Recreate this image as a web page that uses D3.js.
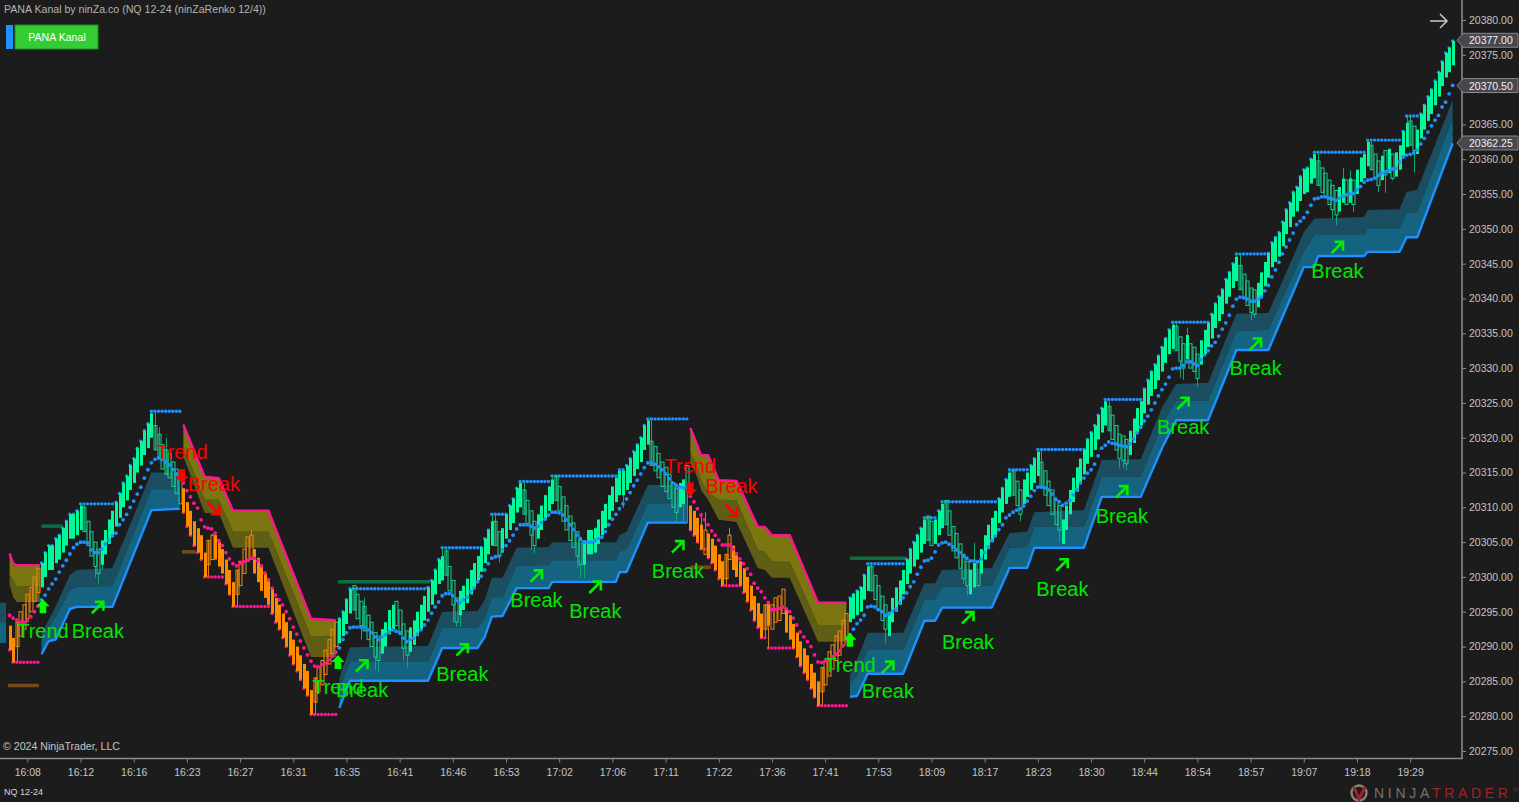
<!DOCTYPE html>
<html>
<head>
<meta charset="utf-8">
<script src="https://cdn.jsdelivr.net/npm/d3@7"></script>
<style>
  html, body { margin: 0; padding: 0; background: #1c1c1c; overflow: hidden; }
  svg { display: block; }
  text { font-family: "Liberation Sans", Arial, sans-serif; }
</style>
</head>
<body>
<div id="chart"></div>
<script>
// all prices below are written without the leading 20000
const priceBase = 20000;

const timeLabels = ["16:08", "16:12", "16:16", "16:23", "16:27", "16:31", "16:35", "16:41", "16:46", "16:53", "17:02", "17:06", "17:11", "17:22", "17:36", "17:41", "17:53", "18:09", "18:17", "18:23", "18:30", "18:44", "18:54", "18:57", "19:07", "19:18", "19:29"];
const priceFlags = [377, 370.5, 362.25];

// renko closes, one per bar
const closes = [
  289.5, 287.75, 293.5, 295, 296, 297.5, 298.5, 300, 301.25, 302, 303.5, 304.5, 304.5, 305.5, 306, 307, 308, 309, 309, 309.5,
  310.25, 306.5, 304.5, 303, 301.5, 300.5, 305.25, 306.75, 308.25, 309.5, 310.75, 312, 313.5, 314.5, 316, 317, 318.5, 319.5, 321, 322,
  323.5, 318.25, 317, 315.5, 314.75, 314.25, 313, 312, 310.5, 309.25, 307.25, 306, 304.5, 303.5, 302.5, 300, 305.25, 306, 302.5, 301.5,
  300.5, 299, 297.5, 295.75, 301, 302.25, 304, 305.75, 306, 300.5, 299.25, 298, 297, 296, 294.75, 293.5, 292.5, 291.25, 290, 288.75,
  287.5, 286.5, 285.25, 284, 283, 280.25, 285.5, 287, 288, 289.5, 291, 292.5, 293.5, 294, 295, 296.75, 298.25, 295.25, 294, 293,
  292.25, 291, 290, 288.5, 288, 292.5, 293.5, 295.25, 296, 293, 291.75, 289.75, 288.75, 292.75, 293.75, 295, 296, 297.25, 298.5, 299.5,
  301, 302.5, 303, 300.25, 298, 296, 293.5, 298, 298.75, 299.75, 301, 302, 303, 304.25, 305.5, 306.75, 308, 304.5, 303, 307,
  309, 310.25, 311.25, 312.75, 313.5, 309, 307.5, 306, 304.5, 309, 310.25, 311.75, 313, 314, 311, 309.5, 308, 306.75, 305.25, 304.25,
  303, 301.75, 305.25, 306.75, 306.75, 307, 308.25, 309.5, 310.5, 311.75, 313, 314.25, 315.25, 315.25, 316, 317, 318, 319, 320, 321.75,
  322.5, 316, 315.25, 314.25, 313, 312.25, 311.25, 310, 309.25, 313.5, 314, 312.5, 306.75, 306, 305, 304, 306.75, 302.75, 302, 301,
  299.75, 298.75, 303.25, 306, 301, 300, 298.75, 297.75, 296.5, 295.25, 293.75, 292.75, 291.25, 296, 293, 296, 297, 297.25, 298.25, 292,
  291, 289.75, 288.5, 287.25, 286.25, 285.25, 284, 282.75, 281.5, 287, 288, 289.25, 290.25, 291.5, 292.25, 293.75, 294.75, 297, 297.5, 298,
  298.5, 300.25, 301.5, 298, 296.75, 295.25, 293.75, 292.5, 295, 297, 298.5, 299.5, 301, 302.5, 304, 305, 306, 307, 308.25, 305.25,
  304.5, 308.25, 309.5, 310.5, 307.5, 306, 303.75, 302.75, 301.25, 299.75, 298.75, 301, 302, 298.75, 304, 306, 307.5, 308.5, 309.5, 311.25,
  312.75, 314, 315, 311.75, 310.25, 309, 314, 315, 316, 317, 318, 313, 311.75, 310.25, 309, 307.5, 306.75, 308.25, 310.25, 312.5,
  314.25, 315.75, 317, 318.25, 319.75, 320.75, 321.75, 323.25, 324.25, 325.25, 321, 319.75, 318.25, 317, 316.75, 316.25, 321, 322.75, 324.25, 325.25,
  327, 328.25, 329.5, 330.5, 331.75, 333, 334.25, 335.5, 336.25, 332.5, 331, 330, 334.75, 330, 329.5, 328.5, 334, 335.5, 336.5, 337.75,
  339.25, 340.25, 341.25, 342.75, 343.75, 345, 346, 341.25, 340, 339, 338, 337.75, 342.25, 343.75, 345.25, 346.5, 348, 348.75, 349.5, 351,
  352.75, 353.75, 355.25, 356, 357.5, 358.5, 358.75, 360, 360.75, 356.25, 355.25, 354.5, 353.5, 352.75, 352, 356, 357.25, 353.5, 357.25, 353.5,
  358.5, 360.25, 360.75, 362.5, 358.5, 357.25, 356.25, 360.5, 357.75, 361.5, 357.25, 361, 362, 364, 365.25, 362, 361.25, 364.25, 366.5, 367.75,
  369, 370, 371.25, 372.5, 374, 375.25, 376, 377
];

// wick tips, sparse
const wickBars = [2, 21, 24, 25, 26, 20, 40, 41, 42, 44, 56, 57, 64, 68, 86, 96, 97, 99, 100, 103, 104, 111, 112, 122, 123, 125, 126, 127, 136, 137, 138, 144, 145, 147, 148, 153, 154, 160, 161, 162, 165, 172, 173, 180, 181, 188, 190, 191, 195, 196, 202, 203, 213, 214, 229, 242, 243, 247, 248, 258, 259, 263, 264, 269, 270, 272, 273, 282, 283, 285, 290, 291, 296, 309, 310, 313, 314, 315, 328, 329, 330, 331, 332, 335, 346, 347, 350, 351, 368, 369, 373, 374, 376, 378, 379, 383, 384, 386, 388, 389, 390, 394, 395, 396];
const wickEnds = [287.75, 310.5, 299.9, 299.1, 301, 310.5, 323.8, 323.8, 321.5, 320, 300, 306.2, 295.75, 306.75, 280.25, 298.3, 298.3, 291, 297, 286.6, 286.3, 288, 286.9, 304.2, 304.2, 293.5, 292.8, 292.8, 309, 309, 302.1, 313.7, 313.7, 303.9, 303.4, 314.5, 314.5, 301.2, 299.8, 299.8, 307.2, 315.4, 309.9, 322.7, 322.7, 307.9, 307.9, 307.7, 309.2, 309.3, 298.75, 307, 291.25, 289.8, 281.5, 301.9, 301.9, 290.5, 294.1, 308.5, 308.5, 310.8, 310.8, 299, 297.4, 304.9, 298.6, 315.4, 315.4, 308, 318.3, 318.3, 305, 325.5, 325.5, 315.6, 315.6, 315.3, 336.6, 336.6, 328.6, 328.3, 335.8, 327.3, 346.4, 346.4, 336.9, 337.2, 361, 361, 351.5, 350.5, 358.7, 358.4, 352.4, 362.75, 362.75, 355.3, 355.2, 361.3, 357, 366.2, 366.2, 358.1];

// the dotted trail, one per bar
const trailValues = [
  294.5, 294.1, 293.8, 293.5, 293.5, 293.7, 294.3, 295, 295.8, 296.7, 297.4, 298.3, 299, 299.7, 300.7, 301.6, 302.4, 303.3, 304.2, 304.7,
  305, 305, 304.9, 303.9, 303.5, 303.5, 304, 304.7, 305.3, 305.9, 306.3, 307.5, 308.2, 309, 310, 310.9, 311.9, 312.9, 314.2, 315.4,
  316.4, 316.9, 317.1, 316.9, 316.5, 316.1, 315.4, 314.8, 314.2, 313.5, 312.4, 311.5, 310.6, 309.9, 308.2, 307.2, 307, 306.9, 306.3, 305.2,
  304.5, 303.5, 302.6, 301.9, 301.6, 301.9, 302.2, 302.4, 302.7, 302.7, 302.3, 301.6, 300.6, 299.6, 298.4, 297.4, 296.7, 296, 295, 294,
  292.8, 291.8, 290.8, 289.8, 288.8, 287.9, 287.2, 287.1, 287.4, 287.6, 288.1, 288.6, 289.2, 289.8, 291, 292, 292.7, 292.8, 292.8, 292.8,
  292.8, 292.4, 292, 291.4, 291, 291.4, 291.7, 292.1, 292.4, 292.2, 292, 291.2, 290.7, 291, 291.2, 291.8, 292.4, 293.1, 293.8, 294.8,
  295.7, 296.4, 297.3, 297.6, 297.6, 297.3, 296.6, 296.3, 296.7, 297.1, 297.9, 298.4, 299.3, 300.1, 301, 301.9, 302.7, 302.9, 303, 303.9,
  304.5, 305.2, 306, 306.9, 307.5, 307.5, 307.5, 307.3, 307, 307.3, 307.8, 308.3, 308.9, 309.3, 309.3, 309.2, 308.9, 308.2, 307.5, 306.8,
  306, 305.5, 305, 305, 305, 305.2, 305.5, 305.7, 306.5, 307.5, 308.3, 309, 309.8, 310.5, 311.2, 312.1, 313.1, 313.9, 314.8, 315.7,
  316.4, 316.4, 316.2, 315.8, 315.4, 314.8, 314.1, 313.5, 313.2, 312.9, 312.8, 312.4, 311.6, 310.8, 309.8, 308.9, 308.2, 307.5, 306.6, 306,
  305.3, 304.6, 304.6, 304.6, 304, 303.3, 302.6, 301.9, 301.2, 300.4, 299.1, 298.4, 297.9, 297, 296.3, 295.3, 295.3, 295.5, 295.7, 295.4,
  295, 294.1, 293.1, 292.1, 291.4, 290.7, 290, 288.8, 287.8, 287.7, 287.9, 288.2, 288.5, 288.9, 289.4, 290.1, 291, 291.7, 292.5, 293.3,
  293.8, 294.5, 295.7, 295.8, 295.7, 295.3, 295, 294.5, 294.7, 295.1, 295.4, 296.3, 297, 297.7, 298.6, 299.3, 300.4, 301.4, 302.3, 302.4,
  302.7, 303.6, 304.6, 304.9, 305, 304.7, 304.3, 303.9, 303.5, 303, 302.7, 302.3, 302.3, 302.2, 302.6, 303.5, 304.3, 305.2, 305.9, 306.8,
  307.5, 308.5, 308.9, 309.3, 309.6, 309.8, 310.2, 310.9, 311.6, 312.4, 312.9, 312.9, 312.8, 312.5, 311.9, 311.2, 310.8, 310.3, 310.6, 311,
  311.8, 312.6, 313.5, 314.2, 314.9, 315.4, 316.2, 317.4, 318.5, 318.9, 319.4, 319.2, 319.1, 318.9, 318.8, 318.7, 319.1, 319.8, 320.7, 321.5,
  322.4, 323.1, 324, 325, 326, 326.9, 327.7, 328.7, 329.9, 330, 330, 330.4, 330.9, 330.9, 330.6, 330.4, 331.2, 331.9, 332.5, 333.2,
  333.7, 334.6, 335.6, 336.5, 337.6, 338.9, 339.9, 340.2, 340.1, 339.9, 339.6, 339.6, 339.9, 340.2, 341.1, 341.9, 343.1, 344.1, 345.2, 346.4,
  347.4, 348.4, 349.4, 350.6, 351.1, 351.6, 352.4, 353.4, 354.3, 354.4, 354.6, 354.6, 354.4, 354.3, 354.1, 354.4, 354.7, 354.9, 355, 355.1,
  355.6, 356.1, 356.7, 357, 357.1, 357.3, 357.7, 358, 358.2, 358.4, 358.6, 358.7, 359.6, 360.3, 360.6, 360.7, 360.9, 361.3, 362.2, 363,
  363.9, 364.8, 365.6, 366.3, 367.5, 368.2, 369.4, 370.6
];

// down trend stretches, first and last bar
const downFrom = [0, 49, 192];
const downTo = [8, 92, 236];

// channel bands: knots at bars, then line, middle edge, far edge
const blueBars0 = [-3, -1];
const blueLine0 = [290.5, 290.5];
const blueMid0 = [293.5, 293.5];
const blueEdge0 = [296.3, 296.3];

const blueBars1 = [9, 11, 13, 17, 19, 29, 40, 48];
const blueLine1 = [288.9, 290.8, 291, 295.4, 295.7, 295.7, 309.6, 309.8];
const blueMid1 = [291, 292.7, 294.3, 298.1, 298.6, 298.7, 312.6, 312.6];
const blueEdge1 = [291.8, 293.8, 295.8, 300.3, 301, 301.3, 315, 315];

const blueBars2 = [93, 96, 118, 122, 132, 134, 136, 139, 143, 152, 153, 171, 172, 174, 180, 191];
const blueLine2 = [281.2, 285.1, 285.1, 289.8, 289.8, 291.4, 294.3, 294.4, 298.4, 298.4, 299.3, 299.3, 300.7, 300.7, 307.8, 307.8];
const blueMid2 = [283.8, 287.8, 287.8, 292.7, 292.7, 294.1, 297.1, 297.1, 301.6, 301.7, 302.4, 302.4, 303.7, 303.9, 310.6, 310.6];
const blueEdge2 = [285.5, 289.9, 290.1, 295, 295.1, 296.7, 299.9, 299.9, 304.2, 304.3, 305, 305, 306, 306.5, 313.2, 313.2];

const blueBars3 = [237, 239, 242, 252, 258, 261, 263, 277, 282, 287, 289, 303, 308, 319, 325, 329, 338, 346, 355, 365, 368, 369, 382, 383, 392, 394, 397, 407];
const blueLine3 = [282.8, 282.9, 286.1, 286.1, 293.7, 293.7, 295.6, 295.6, 301.3, 301.3, 304.2, 304.2, 311.5, 311.5, 318.5, 322.5, 322.5, 332.6, 332.6, 344.5, 344.5, 346.1, 346.1, 346.7, 346.7, 348.8, 348.8, 362.3];
const blueMid3 = [284.5, 285.9, 289.5, 289.5, 296.7, 296.7, 298.6, 298.7, 304.2, 304.3, 307.2, 307.2, 314.4, 314.4, 321.9, 325.3, 325.3, 335.3, 335.5, 346.7, 349.1, 349.1, 349.1, 350.1, 350.1, 352.3, 352.4, 365.9];
const blueEdge3 = [285.9, 288.1, 292, 292, 299.1, 299.1, 301, 301.3, 306.3, 306.5, 309.3, 309.6, 316.8, 316.9, 324.3, 327.7, 327.9, 337.8, 337.9, 349.5, 351.5, 351.5, 351.7, 352.7, 352.8, 355.3, 355.6, 368.5];

const pinkBars1 = [0, 1, 2, 8.5];
const pinkLine1 = [303.4, 301.9, 301.7, 301.7];
const pinkMid1 = [300.3, 299.6, 298.6, 298.7];
const pinkEdge1 = [298.9, 297.1, 296.4, 296.4];

const pinkBars2 = [49, 55, 59, 63, 73, 85, 92];
const pinkLine2 = [321.9, 314.4, 314.2, 309.5, 309.5, 294, 293.8];
const pinkMid2 = [318.7, 311.1, 311.1, 306.5, 306.5, 291.4, 291.5];
const pinkEdge2 = [317.3, 309.2, 309.2, 304.2, 304.2, 288.5, 288.5];

const pinkBars3 = [192, 194, 195, 197, 200, 205, 211, 213, 215, 220, 228, 236];
const pinkLine3 = [321.4, 318.8, 317.5, 317.5, 313.9, 313.8, 307.2, 307.2, 306, 306, 296.3, 296.3];
const pinkMid3 = [318, 315.7, 313.9, 312.1, 311.1, 311, 303.9, 303.6, 302.2, 302.2, 293.1, 293.1];
const pinkEdge3 = [316.4, 314.2, 312.5, 311.1, 308.2, 307.9, 301.3, 301, 299.9, 299.9, 290.7, 290.7];

// short resistance / support levels
const levelFrom = [9, 92.6, 237, -0.5, 48.6, 192];
const levelTo = [15, 118.6, 253, 8.3, 52.5, 197.8];
const levelPrice = [307.3, 299.3, 302.7, 284.4, 303.6, 301.4];
const levelUp = [true, true, true, false, false, false];

// signals: bar and the text baseline price
const breakUpBars = [24.9, 99.4, 127.7, 148.6, 165.2, 188.5, 247.7, 270.3, 296.9, 313.7, 331, 351.4, 374.5];
const breakUpPrices = [291.2, 282.8, 285.1, 295.7, 294.1, 299.9, 282.6, 289.7, 297.3, 307.8, 320.5, 329, 342.9];
const breakDownBars = [57.6, 203.6];
const breakDownPrices = [312.4, 312.1];
const trendUpBars = [9.4, 92.6, 237];
const trendUpPrices = [291.2, 283.2, 286.4];
const trendDownBars = [48.6, 192];
const trendDownPrices = [316.9, 315];

const width = 1519, height = 802;
const axisX = 1462, axisY = 758.5;
const brick = 3.5;

const GREEN = "#00fa9a", ORANGE = "#ff8c00", PINK = "#ff1493", BLUE = "#1e90ff";

const svg = d3.select("#chart").append("svg")
    .attr("width", width)
    .attr("height", height)
    .attr("viewBox", "0 0 " + width + " " + height);

svg.append("rect").attr("width", width).attr("height", height).attr("fill", "#1c1c1c");

const x = d3.scaleLinear().domain([0, 407]).range([9.6, 1452.7]);
const y = d3.scaleLinear().domain([20275, 20380]).range([751, 20]);
const py = v => y(priceBase + v);

function isDown(i) {
    return downFrom.some((f, k) => i >= f && i <= downTo[k]);
}

const bands = [
    { bars: blueBars0, line: blueLine0, mid: blueMid0, edge: blueEdge0, up: true, noLine: true },
    { bars: blueBars1, line: blueLine1, mid: blueMid1, edge: blueEdge1, up: true },
    { bars: blueBars2, line: blueLine2, mid: blueMid2, edge: blueEdge2, up: true },
    { bars: blueBars3, line: blueLine3, mid: blueMid3, edge: blueEdge3, up: true },
    { bars: pinkBars1, line: pinkLine1, mid: pinkMid1, edge: pinkEdge1, up: false },
    { bars: pinkBars2, line: pinkLine2, mid: pinkMid2, edge: pinkEdge2, up: false },
    { bars: pinkBars3, line: pinkLine3, mid: pinkMid3, edge: pinkEdge3, up: false }
];

// channel fills
const area = d3.area().x(d => x(d[0])).y0(d => py(d[1])).y1(d => py(d[2]));
const lineGen = d3.line().x(d => x(d[0])).y(d => py(d[1]));
const bandG = svg.append("g");

bands.forEach(b => {
    bandG.append("path")
        .attr("d", area(b.bars.map((v, i) => [v, b.mid[i], b.edge[i]])))
        .attr("fill", b.up ? "#1b4e61" : "#605d14");
    bandG.append("path")
        .attr("d", area(b.bars.map((v, i) => [v, b.line[i], b.mid[i]])))
        .attr("fill", b.up ? "#146380" : "#7b7610");
});
bands.filter(b => !b.noLine).forEach(b => {
    bandG.append("path")
        .attr("d", lineGen(b.bars.map((v, i) => [v, b.line[i]])))
        .attr("fill", "none")
        .attr("stroke", b.up ? BLUE : PINK)
        .attr("stroke-width", 2.4)
        .attr("stroke-linejoin", "round");
});

// levels
svg.append("g").selectAll("line")
    .data(levelFrom)
    .enter()
    .append("line")
    .attr("x1", d => x(d))
    .attr("x2", (d, i) => x(levelTo[i]))
    .attr("y1", (d, i) => py(levelPrice[i]))
    .attr("y2", (d, i) => py(levelPrice[i]))
    .attr("stroke", (d, i) => levelUp[i] ? "#0e6d3f" : "#734a1c")
    .attr("stroke-width", 3.5);

// swing dots follow the running extreme of each trend
const tips = d3.group(wickBars.map((b, i) => [b, wickEnds[i]]), d => d[0]);
let extreme = null;
const swingData = closes.map((c, i) => {
    const down = isDown(i);
    if (i === 0 || isDown(i - 1) !== down) extreme = null;
    const vals = [c].concat((tips.get(i) || []).map(t => t[1]));
    const v = down ? d3.min(vals) : d3.max(vals);
    extreme = extreme === null ? v : (down ? Math.min(extreme, v) : Math.max(extreme, v));
    return { i: i, v: extreme, down: down };
});

svg.append("g").selectAll("circle")
    .data(swingData)
    .enter()
    .append("circle")
    .attr("cx", d => x(d.i))
    .attr("cy", d => py(d.v))
    .attr("r", 1.7)
    .attr("fill", d => d.down ? PINK : BLUE);

// wicks first so bodies sit over them
svg.append("g").selectAll("line")
    .data(wickBars)
    .enter()
    .append("line")
    .attr("x1", d => Math.round(x(d)) + 0.5)
    .attr("x2", d => Math.round(x(d)) + 0.5)
    .attr("y1", d => py(closes[d]))
    .attr("y2", (d, i) => py(wickEnds[i]))
    .attr("stroke", d => isDown(d) ? "#d67c12" : "#10a86c")
    .attr("stroke-width", 1);

// renko bodies
const barData = closes.map((c, i) => {
    const rising = i > 0 ? c >= closes[i - 1] : false;
    const down = isDown(i);
    return {
        i: i,
        top: rising ? c : c + brick,
        bottom: rising ? c - brick : c,
        hollow: down ? rising : !rising,
        down: down
    };
});

svg.append("g").selectAll("rect")
    .data(barData)
    .enter()
    .append("rect")
    .attr("x", d => Math.round(x(d.i)) - (d.hollow ? 1 : 1))
    .attr("width", 3)
    .attr("y", d => py(d.top))
    .attr("height", d => py(d.bottom) - py(d.top))
    .attr("fill", d => d.hollow ? "none" : (d.down ? ORANGE : GREEN))
    .attr("stroke", d => d.hollow ? (d.down ? "#ee8a10" : "#18d090") : "none")
    .attr("stroke-width", 1);

// trail dots
svg.append("g").selectAll("circle")
    .data(trailValues)
    .enter()
    .append("circle")
    .attr("cx", (d, i) => x(i))
    .attr("cy", d => py(d))
    .attr("r", 1.9)
    .attr("fill", (d, i) => isDown(i) ? PINK : BLUE);

// signals
const BREAK_GREEN = "#00e600";
const signalG = svg.append("g");

function label(txt, bar, price, color) {
    signalG.append("text")
        .attr("x", x(bar))
        .attr("y", py(price))
        .attr("text-anchor", "middle")
        .attr("font-size", 20)
        .attr("fill", color)
        .text(txt);
}

function thinArrow(bar, price, dy, sign, color) {
    // sign -1 points up right, +1 points down right
    signalG.append("path")
        .attr("transform", "translate(" + x(bar) + "," + (py(price) + dy) + ")")
        .attr("d", sign < 0
            ? "M-6,6 L5.5,-5.5 M-3,-5.5 L5.5,-5.5 L5.5,3.5"
            : "M-6,-6 L5.5,5.5 M-3,5.5 L5.5,5.5 L5.5,-3.5")
        .attr("fill", "none")
        .attr("stroke", color)
        .attr("stroke-width", 2.6);
}

function blockArrow(bar, price, dy, sign, color) {
    signalG.append("path")
        .attr("transform", "translate(" + x(bar) + "," + (py(price) + dy) + ")" + (sign > 0 ? " scale(1,-1)" : ""))
        .attr("d", "M0,-7 L6.5,0 L3.3,0 L3.3,7 L-3.3,7 L-3.3,0 L-6.5,0 Z")
        .attr("fill", color);
}

trendUpBars.forEach((b, i) => {
    label("Trend", b, trendUpPrices[i], BREAK_GREEN);
    blockArrow(b, trendUpPrices[i], -32, -1, "#00ff00");
});
breakUpBars.forEach((b, i) => {
    label("Break", b, breakUpPrices[i], BREAK_GREEN);
    thinArrow(b, breakUpPrices[i], -31, -1, "#00f000");
});
trendDownBars.forEach((b, i) => {
    label("Trend", b, trendDownPrices[i], "#ff0000");
    blockArrow(b, trendDownPrices[i], 17, 1, "#ff0000");
});
breakDownBars.forEach((b, i) => {
    label("Break", b, breakDownPrices[i], "#ff0000");
    thinArrow(b, breakDownPrices[i], 18, 1, "#ff0000");
});

// axes
const yAxis = d3.axisRight(y)
    .tickValues(d3.range(20275, 20381, 5))
    .tickFormat(d3.format(".2f"))
    .tickSize(4)
    .tickPadding(3);
const xAxis = d3.axisBottom(x)
    .tickValues(timeLabels.map((d, i) => 5 + i * 15))
    .tickFormat((d, i) => timeLabels[i])
    .tickSize(4)
    .tickPadding(6);

const gy = svg.append("g").attr("transform", "translate(" + axisX + ",0)").call(yAxis);
const gx = svg.append("g").attr("transform", "translate(0," + axisY + ")").call(xAxis);
[gy, gx].forEach(g => {
    g.select(".domain").remove();
    g.selectAll("line").attr("stroke", "#8a8a8a");
    g.selectAll("text")
        .attr("fill", "#c4c4c4")
        .attr("font-size", 10.5)
        .attr("font-family", "'Liberation Sans', Arial, sans-serif");
});
gx.selectAll("text").attr("dy", "0.71em");

svg.append("line").attr("x1", 0).attr("x2", axisX + 1).attr("y1", axisY).attr("y2", axisY)
    .attr("stroke", "#8a8a8a").attr("stroke-width", 1.6);
svg.append("line").attr("x1", axisX).attr("x2", axisX).attr("y1", 0).attr("y2", axisY)
    .attr("stroke", "#8a8a8a").attr("stroke-width", 1.6);

// price flags
const flags = svg.append("g").selectAll("g")
    .data(priceFlags)
    .enter()
    .append("g")
    .attr("transform", d => "translate(0," + (py(d) - 0.6) + ")");
flags.append("path")
    .attr("d", "M1457,0 L1463,-7 L1518,-7 L1518,7 L1463,7 Z")
    .attr("fill", "#47474d")
    .attr("stroke", "#9a9a9a")
    .attr("stroke-width", 0.8);
flags.append("text")
    .attr("x", 1469)
    .attr("y", 4)
    .attr("font-size", 10.5)
    .attr("fill", "#f2f2f2")
    .text(d => d3.format(".2f")(priceBase + d));

// arrow top right
svg.append("path")
    .attr("d", "M1430,21 L1447,21 M1440,14 L1447,21 L1440,28")
    .attr("fill", "none")
    .attr("stroke", "#c8c8c8")
    .attr("stroke-width", 1.5);

// header
svg.append("text").attr("x", 4).attr("y", 13).attr("font-size", 10.6).attr("fill", "#b4b4b4")
    .text("PANA Kanal by ninZa.co (NQ 12-24 (ninZaRenko 12/4))");
svg.append("rect").attr("x", 6).attr("y", 25).attr("width", 7).attr("height", 24).attr("fill", BLUE);
svg.append("rect").attr("x", 15).attr("y", 25).attr("width", 83).attr("height", 24)
    .attr("fill", "#32cd32").attr("stroke", "#228b22").attr("stroke-width", 1);
svg.append("text").attr("x", 57).attr("y", 41).attr("text-anchor", "middle").attr("font-size", 10.6).attr("fill", "#ffffff")
    .text("PANA Kanal");

// footer
svg.append("text").attr("x", 3).attr("y", 750).attr("font-size", 10.6).attr("fill", "#c4c4c4")
    .text("\u00a9 2024 NinjaTrader, LLC");
svg.append("text").attr("x", 4).attr("y", 795).attr("font-size", 9).attr("fill", "#d8d8d8")
    .text("NQ 12-24");

// logo
const logo = svg.append("g");
logo.append("circle").attr("cx", 1359).attr("cy", 793).attr("r", 7.5)
    .attr("fill", "none").attr("stroke", "#8c8078").attr("stroke-width", 2.4);
logo.append("path").attr("d", "M1354,787 L1359,799 L1365,787")
    .attr("fill", "none").attr("stroke", "#a0222a").attr("stroke-width", 3);
const logoText = logo.append("text").attr("x", 1374).attr("y", 798)
    .attr("font-size", 14).attr("letter-spacing", 3.7);
logoText.append("tspan").attr("fill", "#77736f").text("NINJA");
logoText.append("tspan").attr("fill", "#a0222a").text("TRADER");
logo.append("text").attr("x", 1513).attr("y", 792).attr("font-size", 6).attr("fill", "#a0222a").text("\u00ae");
</script>
</body>
</html>
